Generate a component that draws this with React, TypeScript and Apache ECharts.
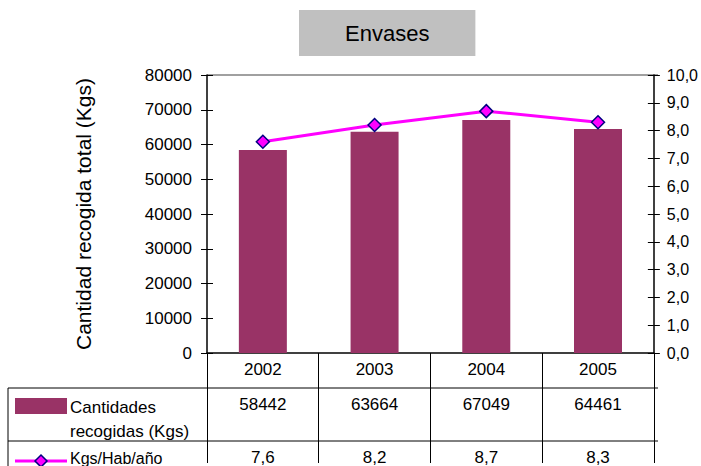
import React, { useEffect, useRef } from "react";
import * as echarts from "echarts";

const categories = ["2002", "2003", "2004", "2005"];
const cantidades = [58442, 63664, 67049, 64461];
const kgsHab = [7.6, 8.2, 8.7, 8.3];
const leftTicks = { min: 0, max: 80000, interval: 10000 };
const rightTicks = { min: 0, max: 10, interval: 1 };

const FONT = "Liberation Sans, Arial, sans-serif";
const fmtComma = (v: number) => v.toFixed(1).replace(".", ",");

export default function App() {
  const ref = useRef<HTMLDivElement>(null);
  useEffect(() => {
    if (!ref.current) return;
    const chart = echarts.init(ref.current, undefined, { renderer: "svg" });
    const hiddenX = (margin: number, fmt: (i: number) => string) => ({
      type: "category",
      data: categories,
      position: "bottom",
      axisLine: { show: false },
      axisTick: { show: false },
      axisLabel: {
        margin,
        fontSize: 17,
        fontFamily: FONT,
        color: "#000",
        formatter: (_v: string, i: number) => fmt(i),
      },
    });
    chart.setOption({
      animation: false,
      textStyle: { fontFamily: FONT },
      title: {
        text: "Envases",
        left: 299,
        top: 10,
        padding: [12, 46],
        backgroundColor: "#c0c0c0",
        textStyle: { fontSize: 22, fontWeight: "normal", color: "#000", fontFamily: FONT },
      },
      grid: { left: 207, right: 43, top: 75, bottom: 110 },
      xAxis: [
        {
          type: "category",
          data: categories,
          position: "bottom",
          axisLine: { lineStyle: { color: "#000", width: 1.5 } },
          axisTick: { show: true, length: 110, lineStyle: { color: "#000" } },
          axisLabel: { margin: 8, fontSize: 17, fontFamily: FONT, color: "#000" },
        },
        hiddenX(43, (i) => String(cantidades[i])),
        hiddenX(96, (i) => fmtComma(kgsHab[i])),
      ],
      yAxis: [
        {
          type: "value",
          ...leftTicks,
          position: "left",
          name: "Cantidad recogida total (Kgs)",
          nameLocation: "middle",
          nameGap: 113,
          nameTextStyle: { fontSize: 21, color: "#000", fontFamily: FONT },
          axisLine: { show: true, lineStyle: { color: "#000", width: 1.5 } },
          axisTick: { show: true, length: 6, lineStyle: { color: "#000" } },
          axisLabel: {
            margin: 15,
            fontSize: 17,
            fontFamily: FONT,
            color: "#000",
            formatter: (v: number) => String(v),
          },
          splitLine: { show: false },
        },
        {
          type: "value",
          ...rightTicks,
          position: "right",
          axisLine: { show: true, lineStyle: { color: "#000", width: 1.5 } },
          axisTick: { show: true, length: 6, lineStyle: { color: "#000" } },
          axisLabel: {
            margin: 13,
            fontSize: 16,
            fontFamily: FONT,
            color: "#000",
            formatter: (v: number) => fmtComma(v),
          },
          splitLine: { show: false },
        },
        {
          type: "value",
          ...leftTicks,
          position: "left",
          axisLine: { show: false },
          axisTick: { show: true, inside: true, length: 6, lineStyle: { color: "#000" } },
          axisLabel: { show: false },
          splitLine: { show: false },
        },
        {
          type: "value",
          ...rightTicks,
          position: "right",
          axisLine: { show: false },
          axisTick: { show: true, inside: true, length: 6, lineStyle: { color: "#000" } },
          axisLabel: { show: false },
          splitLine: { show: false },
        },
      ],
      graphic: [
        { type: "line", shape: { x1: 207, y1: 75, x2: 658, y2: 75 }, style: { stroke: "#808080", lineWidth: 1.5 } },
        { type: "line", shape: { x1: 8, y1: 388, x2: 658, y2: 388 }, style: { stroke: "#000", lineWidth: 1 } },
        { type: "line", shape: { x1: 8, y1: 441, x2: 658, y2: 441 }, style: { stroke: "#000", lineWidth: 1 } },
        { type: "line", shape: { x1: 8, y1: 388, x2: 8, y2: 466 }, style: { stroke: "#000", lineWidth: 1 } },
        { type: "rect", shape: { x: 15, y: 398, width: 52, height: 16 }, style: { fill: "#993366" } },
        { type: "text", x: 70, y: 407, style: { text: "Cantidades", fontSize: 17, fontFamily: FONT, fill: "#000", verticalAlign: "middle" } },
        { type: "text", x: 70, y: 431, style: { text: "recogidas (Kgs)", fontSize: 17, fontFamily: FONT, fill: "#000", verticalAlign: "middle" } },
        { type: "line", shape: { x1: 15, y1: 461, x2: 67, y2: 461 }, style: { stroke: "#ff00ff", lineWidth: 3 } },
        { type: "polygon", shape: { points: [[41, 455], [47, 461], [41, 467], [35, 461]] }, style: { fill: "#ff00ff", stroke: "#000080", lineWidth: 1.5 } },
        { type: "text", x: 70, y: 458, style: { text: "Kgs/Hab/año", fontSize: 16, fontFamily: FONT, fill: "#000", verticalAlign: "middle" } },
      ],
      series: [
        {
          name: "Cantidades recogidas (Kgs)",
          type: "bar",
          xAxisIndex: 0,
          yAxisIndex: 0,
          data: cantidades,
          barWidth: 48,
          itemStyle: { color: "#993366" },
        },
        {
          name: "Kgs/Hab/año",
          type: "line",
          xAxisIndex: 0,
          yAxisIndex: 1,
          data: kgsHab,
          symbol: "diamond",
          symbolSize: 13,
          lineStyle: { color: "#ff00ff", width: 3 },
          itemStyle: { color: "#ff00ff", borderColor: "#000080", borderWidth: 1.5 },
          z: 3,
        },
      ],
    });
    return () => chart.dispose();
  }, []);
  return <div ref={ref} style={{ width: 701, height: 466, position: "absolute", left: 0, top: 0 }} />;
}
